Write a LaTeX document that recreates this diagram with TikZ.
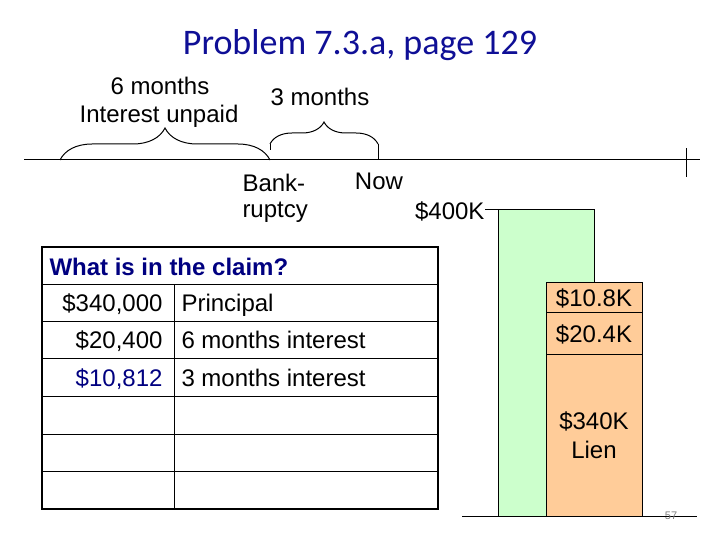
\documentclass[tikz,border=0pt]{standalone}
\usepackage{fontspec}
\setmainfont{Liberation Sans}
\newfontfamily\titlefont{Carlito}
\usetikzlibrary{decorations.pathreplacing}
\definecolor{titleblue}{RGB}{15,15,150}
\definecolor{navy}{RGB}{0,0,128}
\definecolor{lightgreen}{RGB}{204,255,204}
\definecolor{peach}{RGB}{255,204,153}
\tikzset{
	lbl/.style={inner sep=0pt,anchor=base,font=\fontsize{24}{28}\selectfont},
	lblw/.style={lbl,anchor=base west},
	lble/.style={lbl,anchor=base east},
	brace/.style={decorate,decoration={brace,amplitude=#1}},
}
\begin{document}
\begin{tikzpicture}[x=1pt,y=-1pt,line width=1pt]
	\useasboundingbox (0,0) rectangle (720,540) ;
	\node[lbl,font=\titlefont\fontsize{36}{42}\selectfont,text=titleblue] (Title) at (360,55) {Problem 7.3.a, page 129} ;
	% time line
	\coordinate (Start) at (24,160) ;
	\coordinate (End) at (700,160) ;
	\coordinate (Miss) at (60,160) ;
	\coordinate (Bank) at (270,160) ;
	\coordinate (BankUp) at (270,144) ;
	\coordinate (NowUp) at (378,144) ;
	\draw (Start) -- (End) ;
	\draw ([yshift=-17pt]End -| 686,0) -- ([yshift=12pt]End -| 686,0) ;
	\draw[brace=32pt] (Miss) -- (Bank) ;
	\draw[brace=22pt] (BankUp) -- (NowUp) ;
	\draw (BankUp) -- ([yshift=10pt]Bank) ;
	\draw (NowUp) -- (NowUp |- Bank) ;
	\node[lbl] (Six) at (160,95) {6 months} ;
	\node[lbl] (Unpaid) at (159,123) {Interest unpaid} ;
	\node[lbl] (Three) at (320,106) {3 months} ;
	\node[lblw] (Bankrupt) at (242,192) {Bank-} ;
	\node[lblw] (Ruptcy) at (242,218) {ruptcy} ;
	\node[lbl] (Now) at (379,190) {Now} ;
	% bars
	\coordinate (GreenTop) at (498,210) ;
	\filldraw[fill=lightgreen] (GreenTop) rectangle (594,516) ;
	\filldraw[fill=peach] (546,282) rectangle (642,516) ;
	\draw (546,312) -- (642,312) ;
	\draw (546,354) -- (642,354) ;
	\draw (462,516) -- (697,516) ;
	\node[lble] (Value) at (485,219) {\$400K} ;
	\draw (Value.base east |- GreenTop) -- (GreenTop) ;
	\node[lbl] (Int3) at (594,306) {\$10.8K} ;
	\node[lbl] (Int6) at (594,342) {\$20.4K} ;
	\node[lbl] (Lien) at (594,429) {\$340K} ;
	\node[lbl] (LienB) at (594,458) {Lien} ;
	\node[inner sep=0pt,anchor=base,font=\fontsize{11}{13}\selectfont,text=gray] (Page) at (671,519) {57} ;
	% claim table
	\foreach \y in {284,321,358,396,434,471}
		\draw (42,\y) -- (438,\y) ;
	\draw (174,284) -- (174,509) ;
	\draw[line width=2pt] (42,247) rectangle (438,509) ;
	\node[lblw,font=\bfseries\fontsize{24}{28}\selectfont,text=navy] (Claim) at (49,275) {What is in the claim?} ;
	\node[lble] (P1) at (163,311) {\$340,000} ;
	\node[lblw] (T1) at (181,311) {Principal} ;
	\node[lble] (P2) at (163,348) {\$20,400} ;
	\node[lblw] (T2) at (181,348) {6 months interest} ;
	\node[lble,text=navy] (P3) at (163,386) {\$10,812} ;
	\node[lblw] (T3) at (181,386) {3 months interest} ;
\end{tikzpicture}
\end{document}
